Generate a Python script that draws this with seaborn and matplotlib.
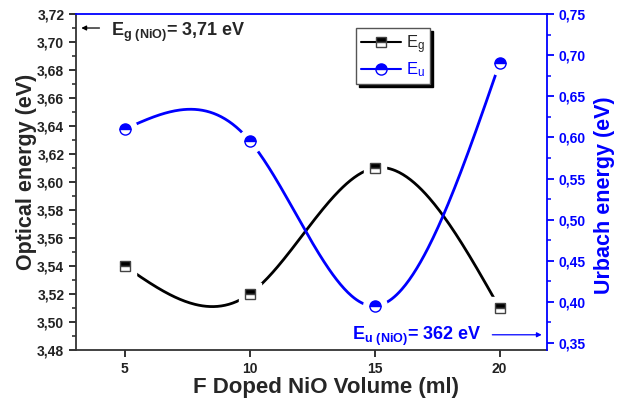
import numpy as np
import pandas as pd
import matplotlib
matplotlib.use('Agg')
import matplotlib.pyplot as plt
import seaborn as sns
from matplotlib.lines import Line2D
from matplotlib.ticker import FuncFormatter, MultipleLocator

# data
volume = [5, 10, 15, 20]
eg = [3.54, 3.52, 3.61, 3.51]
eu = [0.610, 0.596, 0.395, 0.690]

BLUE = '#0000ff'

sns.set_style('ticks')
plt.rcParams['font.family'] = ['Liberation Sans', 'DejaVu Sans']
plt.rcParams['mathtext.default'] = 'regular'


def natural_spline(x, y, n=300):
    # natural cubic spline, like the smooth line in Origin
    x = np.asarray(x, float)
    y = np.asarray(y, float)
    k = len(x)
    h = np.diff(x)
    A = np.zeros((k, k))
    b = np.zeros(k)
    A[0, 0] = A[-1, -1] = 1
    for i in range(1, k - 1):
        A[i, i - 1] = h[i - 1]
        A[i, i] = 2 * (h[i - 1] + h[i])
        A[i, i + 1] = h[i]
        b[i] = 6 * ((y[i + 1] - y[i]) / h[i] - (y[i] - y[i - 1]) / h[i - 1])
    M = np.linalg.solve(A, b)
    xs = np.linspace(x[0], x[-1], n)
    idx = np.clip(np.searchsorted(x, xs) - 1, 0, k - 2)
    x0, x1 = x[idx], x[idx + 1]
    hh = x1 - x0
    t0, t1 = x1 - xs, xs - x0
    ys = (M[idx] * t0**3 + M[idx + 1] * t1**3) / (6 * hh) \
        + (y[idx] - M[idx] * hh**2 / 6) * t0 / hh \
        + (y[idx + 1] - M[idx + 1] * hh**2 / 6) * t1 / hh
    return xs, ys


fig = plt.figure(figsize=(6.19, 4.05), dpi=100)
ax = fig.add_axes([0.1228, 0.1358, 0.7609, 0.8296])
ax2 = ax.twinx()

xs, ys = natural_spline(volume, eg)
sns.lineplot(x=xs, y=ys, ax=ax, color='black', linewidth=2, sort=False)
xs, ys = natural_spline(volume, eu)
sns.lineplot(x=xs, y=ys, ax=ax2, color=BLUE, linewidth=2, sort=False)

# white halo leaves the gap round each symbol
ax.plot(volume, eg, 's', color='white', markersize=16, zorder=5)
ax.plot(volume, eg, 's', markersize=7, fillstyle='top', markerfacecolor='black',
        markerfacecoloralt='white', markeredgecolor='#444444', markeredgewidth=1, zorder=6)
ax2.plot(volume, eu, 'o', color='white', markersize=17, zorder=5)
ax2.plot(volume, eu, 'o', markersize=8, fillstyle='top', markerfacecolor=BLUE,
         markerfacecoloralt='white', markeredgecolor=BLUE, markeredgewidth=1, zorder=6)

ax.set_xlim(3.05, 21.9)
ax.set_ylim(3.48, 3.72)
ax2.set_ylim(0.3415, 0.75)
ax.set_xticks(volume)
ax.yaxis.set_major_locator(MultipleLocator(0.02))
ax.yaxis.set_minor_locator(MultipleLocator(0.01))
ax2.yaxis.set_major_locator(MultipleLocator(0.05))
ax2.yaxis.set_minor_locator(MultipleLocator(0.025))
comma = FuncFormatter(lambda v, p: f'{v:.2f}'.replace('.', ','))
ax.yaxis.set_major_formatter(comma)
ax2.yaxis.set_major_formatter(comma)

ax.tick_params(axis='both', which='major', length=5, width=1.3, labelsize=10, colors='#222222')
ax.tick_params(axis='y', which='minor', length=3, width=1.1, colors='#222222')
ax2.tick_params(axis='y', which='major', length=5, width=1.3, labelsize=10, colors=BLUE)
ax2.tick_params(axis='y', which='minor', length=3, width=1.1, colors=BLUE)
for lab in ax.get_xticklabels() + ax.get_yticklabels() + ax2.get_yticklabels():
    lab.set_fontweight('bold')

for a in (ax, ax2):
    for s in a.spines.values():
        s.set_linewidth(1.3)
ax.spines['left'].set_color('#333333')
ax.spines['bottom'].set_color('#333333')
ax.spines['top'].set_visible(False)
ax.spines['right'].set_visible(False)
ax2.spines['left'].set_visible(False)
ax2.spines['bottom'].set_visible(False)
ax2.spines['right'].set_color(BLUE)
ax2.spines['top'].set_color(BLUE)

ax.set_xlabel('F Doped NiO Volume (ml)', fontsize=16, fontweight='bold')
ax.set_ylabel('Optical energy (eV)', fontsize=15.5, fontweight='bold')
ax2.set_ylabel('Urbach energy (eV)', fontsize=15.5, fontweight='bold', color=BLUE)
ax.xaxis.set_label_coords(0.53, -0.08)
ax.yaxis.set_label_coords(-0.083, 0.53)
ax2.yaxis.set_label_coords(1.10, 0.46)

# reference values for bulk NiO
ax.annotate('', xy=(3.15, 3.71), xytext=(4.1, 3.71),
            arrowprops=dict(arrowstyle='-|>', color='black', lw=0.9, mutation_scale=7))
ax.text(4.45, 3.707, r'E$_{\mathregular{g\ (NiO)}}$= 3,71 eV', fontsize=13,
        fontweight='bold', va='center', ha='left')
ax2.annotate('', xy=(21.8, 0.36), xytext=(19.6, 0.36),
             arrowprops=dict(arrowstyle='-|>', color=BLUE, lw=0.9, mutation_scale=7))
ax2.text(14.1, 0.358, r'E$_{\mathregular{u\ (NiO)}}$= 362 eV', fontsize=13,
         fontweight='bold', color=BLUE, va='center', ha='left')

handles = [
    Line2D([], [], color='black', lw=1.5, marker='s', markersize=7, fillstyle='top',
           markerfacecolor='black', markerfacecoloralt='white', markeredgecolor='#444444'),
    Line2D([], [], color=BLUE, lw=1.5, marker='o', markersize=8, fillstyle='top',
           markerfacecolor=BLUE, markerfacecoloralt='white', markeredgecolor=BLUE),
]
leg = ax2.legend(handles, ['E$_g$', 'E$_u$'], loc='upper left', bbox_to_anchor=(0.594, 0.958),
                 borderaxespad=0, fontsize=12, handlelength=2.4, handletextpad=0.3,
                 fancybox=False, framealpha=1, edgecolor='#555555',
                 shadow={'color': 'black', 'alpha': 1}, borderpad=0.3, labelspacing=0.3)
leg.get_texts()[1].set_color(BLUE)
leg.get_frame().set_linewidth(1)
leg.set_zorder(10)

fig.savefig('out.png', dpi=100)
